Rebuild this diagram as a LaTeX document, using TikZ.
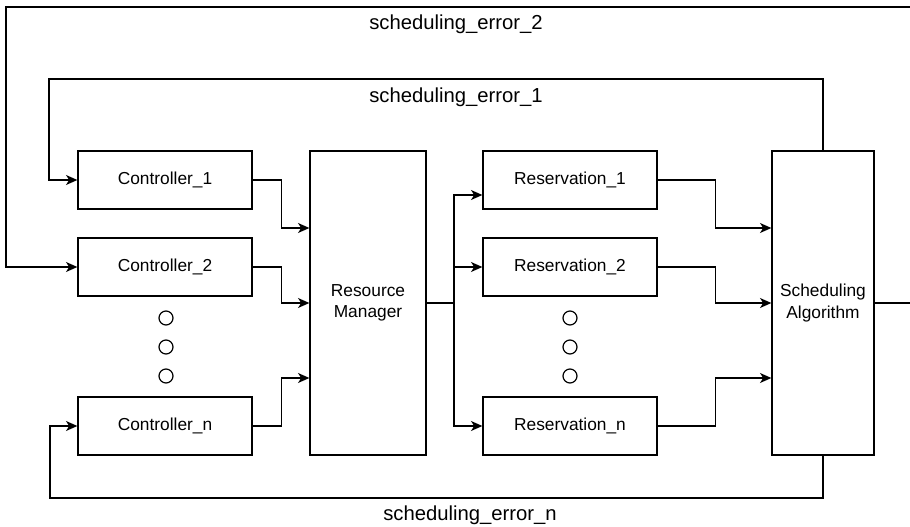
\documentclass[tikz,border=0pt]{standalone}
\usepackage{fontspec}
\setmainfont{Liberation Sans}
\usetikzlibrary{arrows.meta}
\begin{document}
\begin{tikzpicture}[x=0.75pt,y=-0.75pt,
  line width=1pt,
  box/.style={draw,line width=1pt,inner sep=0pt,align=center,font=\fontsize{13}{16}\selectfont},
  smallbox/.style={box,minimum width=130.5pt,minimum height=43.5pt},
  tallbox/.style={box,minimum height=228pt},
  arr/.style={-{Stealth[length=8.5pt,width=7.5pt,inset=2.4pt]}},
  lbl/.style={inner sep=0pt,font=\fontsize{15.2}{18}\selectfont},
  dot/.style={draw,circle,line width=0.9pt,minimum size=10.5pt,inner sep=0pt}
]
\clip (0,0) rectangle (910,527);
\fill[white] (0,0) rectangle (910,527);

% boxes
\node[smallbox] (c1) at (165,180) {Controller\_1};
\node[smallbox] (c2) at (165,267) {Controller\_2};
\node[smallbox] (cn) at (165,426) {Controller\_n};
\node[tallbox,minimum width=87pt] (rm) at (368,303) {Resource\\Manager};
\node[smallbox] (r1) at (570,180) {Reservation\_1};
\node[smallbox] (r2) at (570,267) {Reservation\_2};
\node[smallbox] (rn) at (570,426) {Reservation\_n};
\node[tallbox,minimum width=76.5pt] (sa) at (823,303) {Scheduling\\Algorithm};

% dots
\node[dot] (d1) at (166,318) {};
\node[dot] (d2) at (166,347) {};
\node[dot] (d3) at (166,376) {};
\node[dot] (e1) at (570,318) {};
\node[dot] (e2) at (570,347) {};
\node[dot] (e3) at (570,376) {};

% controllers -> resource manager
\draw[arr] (c1.east) -- ++(29,0) |- (rm.west |- 0,228);
\draw[arr] (c2.east) -- ++(29,0) |- (rm.west |- 0,303);
\draw[arr] (cn.east) -- ++(29,0) |- (rm.west |- 0,378);

% resource manager -> reservations
\coordinate (br) at (454,303);
\draw (rm.east) -- (br);
\draw[arr] (br) |- (r1.west |- 0,195);
\draw[arr] (br) |- (r2.west);
\draw[arr] (br) |- (rn.west);

% reservations -> scheduling algorithm
\draw[arr] (r1.east) -- ++(58,0) |- (sa.west |- 0,228);
\draw[arr] (r2.east) -- ++(58,0) |- (sa.west |- 0,303);
\draw[arr] (rn.east) -- ++(58,0) |- (sa.west |- 0,378);

% feedback loops
\draw[arr] (sa.north) |- (49,79) |- (c1.west);
\draw[arr] (sa.east) -- (930,303) -- (930,7) -| (6,150) |- (c2.west);
\draw[arr] (sa.south) |- (50,498) |- (cn.west);

% labels
\node[lbl] (l2) at (456,24) {scheduling\_error\_2};
\node[lbl] (l1) at (456,97) {scheduling\_error\_1};
\node[lbl] (ln) at (470,515) {scheduling\_error\_n};
\end{tikzpicture}
\end{document}
